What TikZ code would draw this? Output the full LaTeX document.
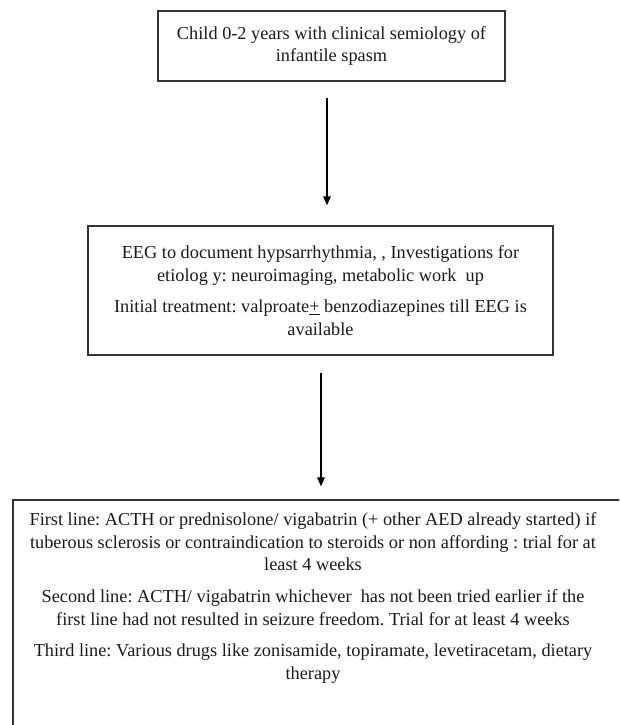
\documentclass[tikz,border=0pt]{standalone}
\usepackage{fontspec}
\setmainfont{Liberation Serif}
\usetikzlibrary{arrows.meta,calc}
\definecolor{boxc}{HTML}{333333}
\definecolor{txtc}{HTML}{1A1A1A}
\frenchspacing
\tikzset{
  boxnode/.style={draw=boxc,line width=1.3pt,rectangle,inner sep=0pt,align=center,text=txtc,
    font=\fontsize{18.3}{22.7}\selectfont},
  txtnode/.style={inner sep=0pt,align=center,text=txtc,font=\fontsize{18.3}{22.7}\selectfont},
  arr/.style={draw=black,line width=1.2pt,-{Triangle[width=7.5pt,length=9pt]}}
}
\begin{document}
\begin{tikzpicture}[x=1pt,y=1pt]
\useasboundingbox (0,0) rectangle (619,-725);
\clip (0,0) rectangle (619,-725);
\node[boxnode,minimum width=347pt,minimum height=70pt] (box1) at (331.5,-46)
  {Child 0-2 years with clinical semiology of\\infantile spasm};
\node[boxnode,minimum width=465pt,minimum height=129pt] (box2) at (320.5,-290.5)
  {EEG to document hypsarrhythmia, , Investigations for\\
   etiolog y: neuroimaging, metabolic work\ \ up\\[9pt]
   Initial treatment: valproate\underline{+} benzodiazepines till EEG is\\
   available};
\node[boxnode,minimum width=609pt,minimum height=240pt] (box3) at (317.5,-620) {};
\node[txtnode] (t3) at (313,-598)
  {First line: ACTH or prednisolone/ vigabatrin (+ other AED already started) if\\
   tuberous sclerosis or contraindication to steroids or non affording : trial for at\\
   least 4 weeks\\[9pt]
   Second line: ACTH/ vigabatrin whichever\ \ has not been tried earlier if the\\
   first line had not resulted in seizure freedom. Trial for at least 4 weeks\\[9pt]
   Third line: Various drugs like zonisamide, topiramate, levetiracetam, dietary\\
   therapy};
\draw[arr] ($(box1.south)+(-4.5,-16)$) -- ($(box2.north)+(6.5,20)$);
\draw[arr] ($(box2.south)+(0.5,-17)$) -- ($(box3.north)+(3.5,13)$);
\end{tikzpicture}
\end{document}
